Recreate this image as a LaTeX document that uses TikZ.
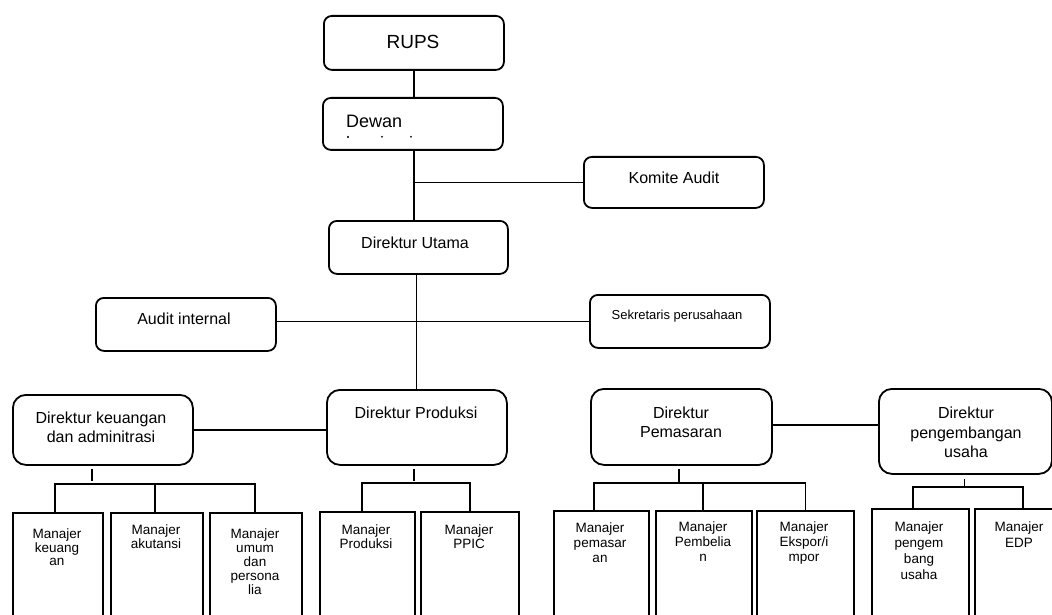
\documentclass[tikz,border=0pt]{standalone}
\usepackage{fontspec}
\setmainfont{Liberation Sans}
\usetikzlibrary{calc}
\tikzset{
  rbox/.style={draw, line width=1.8pt, rounded corners=8pt, inner sep=0pt, anchor=north west},
  dbox/.style={draw, line width=1.8pt, rounded corners=13pt, inner sep=0pt, anchor=north west},
  mbox/.style={draw, line width=1.8pt, inner sep=0pt, anchor=north west, minimum height=140pt},
  conn/.style={line width=1.8pt},
  txt/.style={inner sep=0pt, font=\fontsize{16}{19}\selectfont},
  dtxt/.style={inner sep=0pt, align=center, anchor=north, font=\fontsize{16}{19}\selectfont},
  mtxt/.style={inner sep=0pt, align=center, anchor=north, font=\fontsize{13.5}{#1}\selectfont},
  mtxt/.default=14
}
\begin{document}
\begin{tikzpicture}[x=1pt,y=-1pt]
\useasboundingbox (0,0) rectangle (1052,615);
\fill[white] (0,0) rectangle (1052,615);
\clip (0,0) rectangle (1052,615);

% upper boxes
\node[rbox, minimum width=180pt, minimum height=54pt] (rups) at (323,15) {};
\node[rbox, minimum width=180pt, minimum height=52pt] (dewan) at (322,97) {};
\node[rbox, minimum width=180pt, minimum height=51pt] (komite) at (583,156) {};
\node[rbox, minimum width=179pt, minimum height=53pt] (utama) at (328,220) {};
\node[rbox, minimum width=180pt, minimum height=53pt] (audit) at (95,297) {};
\node[rbox, minimum width=180pt, minimum height=53pt] (sek) at (589,294) {};

% directors
\node[dbox, minimum width=180pt, minimum height=70pt] (dirkeu) at (12,394) {};
\node[dbox, minimum width=180pt, minimum height=75pt] (prod) at (326,389) {};
\node[dbox, minimum width=181pt, minimum height=76pt] (pem) at (590,388) {};
\node[dbox, minimum width=173pt, minimum height=85pt] (peng) at (878,388) {};

% managers
\node[mbox, minimum width=90pt] (mkeu) at (12,512) {};
\node[mbox, minimum width=92pt] (makt) at (110,512) {};
\node[mbox, minimum width=92pt] (mumum) at (209,512) {};
\node[mbox, minimum width=95pt] (mprod) at (319,511) {};
\node[mbox, minimum width=98pt] (mppic) at (420,511) {};
\node[mbox, minimum width=95pt] (mpem) at (553,510) {};
\node[mbox, minimum width=96pt] (mbel) at (655,510) {};
\node[mbox, minimum width=97pt] (meks) at (756,510) {};
\node[mbox, minimum width=97pt] (mpeng) at (871,508) {};
\node[mbox, minimum width=90pt] (medp) at (974,508) {};

% texts
\node[txt, font=\fontsize{19}{22}\selectfont] (t-rups) at (413,42) {RUPS};
\node[txt, font=\fontsize{18}{21}\selectfont, anchor=base west] (t-dewan) at (346,128) {Dewan};
\begin{scope}
  \clip (330,130) rectangle (480,137.6);
  \node[txt, font=\fontsize{18}{21}\selectfont, anchor=base west] (t-kom) at (346,149.5) {komisaris};
\end{scope}
\node[txt] (t-komite) at (674,178) {Komite Audit};
\node[txt] (t-utama) at (415,243) {Direktur Utama};
\node[txt] (t-audit) at (184,319) {Audit internal};
\node[txt, font=\fontsize{13}{15}\selectfont] (t-sek) at (677,316) {Sekretaris perusahaan};

\node[dtxt] (t-dirkeu) at (101,412) {Direktur keuangan\\dan adminitrasi};
\node[dtxt] (t-prod) at (416,407) {Direktur Produksi};
\node[dtxt] (t-pem) at (681,407) {Direktur\\Pemasaran};
\node[dtxt, font=\fontsize{16}{19.5}\selectfont] (t-peng) at (966,407) {Direktur\\pengembangan\\usaha};

\node[mtxt=13.5] (t-mkeu) at (57,529) {Manajer\\keuang\\an};
\node[mtxt=14] (t-makt) at (156,525) {Manajer\\akutansi};
\node[mtxt=14] (t-mumum) at (255,529) {Manajer\\umum\\dan\\persona\\lia};
\node[mtxt=14] (t-mprod) at (366,525) {Manajer\\Produksi};
\node[mtxt=14] (t-mppic) at (469,525) {Manajer\\PPIC};
\node[mtxt=15] (t-mpem) at (600,523) {Manajer\\pemasar\\an};
\node[mtxt=15] (t-mbel) at (703,522) {Manajer\\Pembelia\\n};
\node[mtxt=15] (t-meks) at (804,522) {Manajer\\Ekspor/i\\mpor};
\node[mtxt=16] (t-mpeng) at (919,522) {Manajer\\pengem\\bang\\usaha};
\node[mtxt=16] (t-medp) at (1019,522) {Manajer\\EDP};

% upper connectors
\draw[conn] (rups.south) -- (rups.south |- dewan.north);
\draw[conn] ([xshift=1pt]dewan.south) -- ([xshift=1pt]dewan.south |- utama.north);
\draw[conn] ([xshift=1pt]dewan.south |- komite.west) -- (komite.west);
\draw[conn] ([xshift=-2pt]utama.south) -- ([xshift=-2pt]utama.south |- prod.north);
\draw[conn] (audit.east |- sek.west) -- (sek.west);
\draw[conn] (dirkeu.east) -- (dirkeu.east -| prod.west);
\draw[conn] ([yshift=2pt]pem.east) -- ([yshift=2pt]pem.east -| peng.west);

% bars
\coordinate (barA) at (0,484);
\coordinate (barB) at (0,483);
\coordinate (barC) at (0,483);
\coordinate (barD) at (0,487);

% stubs
\draw[conn] ([xshift=-11pt,yshift=-3pt]dirkeu.south) -- ++(0,12);
\draw[conn] ([xshift=-3pt,yshift=-3pt]prod.south) -- ++(0,12);
\draw[conn] ([xshift=-2.5pt,yshift=-3pt]pem.south) -- ++(0,13);
\draw[conn] ([xshift=-1pt,yshift=-4pt]peng.south) -- ++(0,7);

% group keuangan
\draw[conn] ([xshift=-3pt]mkeu.north) -- ([xshift=-3pt]mkeu.north |- barA) -- ([xshift=-1pt]mumum.north |- barA) -- ([xshift=-1pt]mumum.north);
\draw[conn] ([xshift=-2pt]makt.north) -- ([xshift=-2pt]makt.north |- barA);
% group produksi
\draw[conn] ([xshift=-5.5pt]mprod.north) -- ([xshift=-5.5pt]mprod.north |- barB) -- (mppic.north |- barB) -- (mppic.north);
% group pemasaran
\draw[conn] ([xshift=-7.5pt]mpem.north) -- ([xshift=-7.5pt]mpem.north |- barC) -- (meks.north |- barC) -- (meks.north);
\draw[conn] ([xshift=-1pt]mbel.north) -- ([xshift=-1pt]mbel.north |- barC);
% group pengembangan
\draw[conn] ([xshift=-7.5pt]mpeng.north) -- ([xshift=-7.5pt]mpeng.north |- barD) -- ([xshift=3pt]medp.north |- barD) -- ([xshift=3pt]medp.north);
\end{tikzpicture}
\end{document}
